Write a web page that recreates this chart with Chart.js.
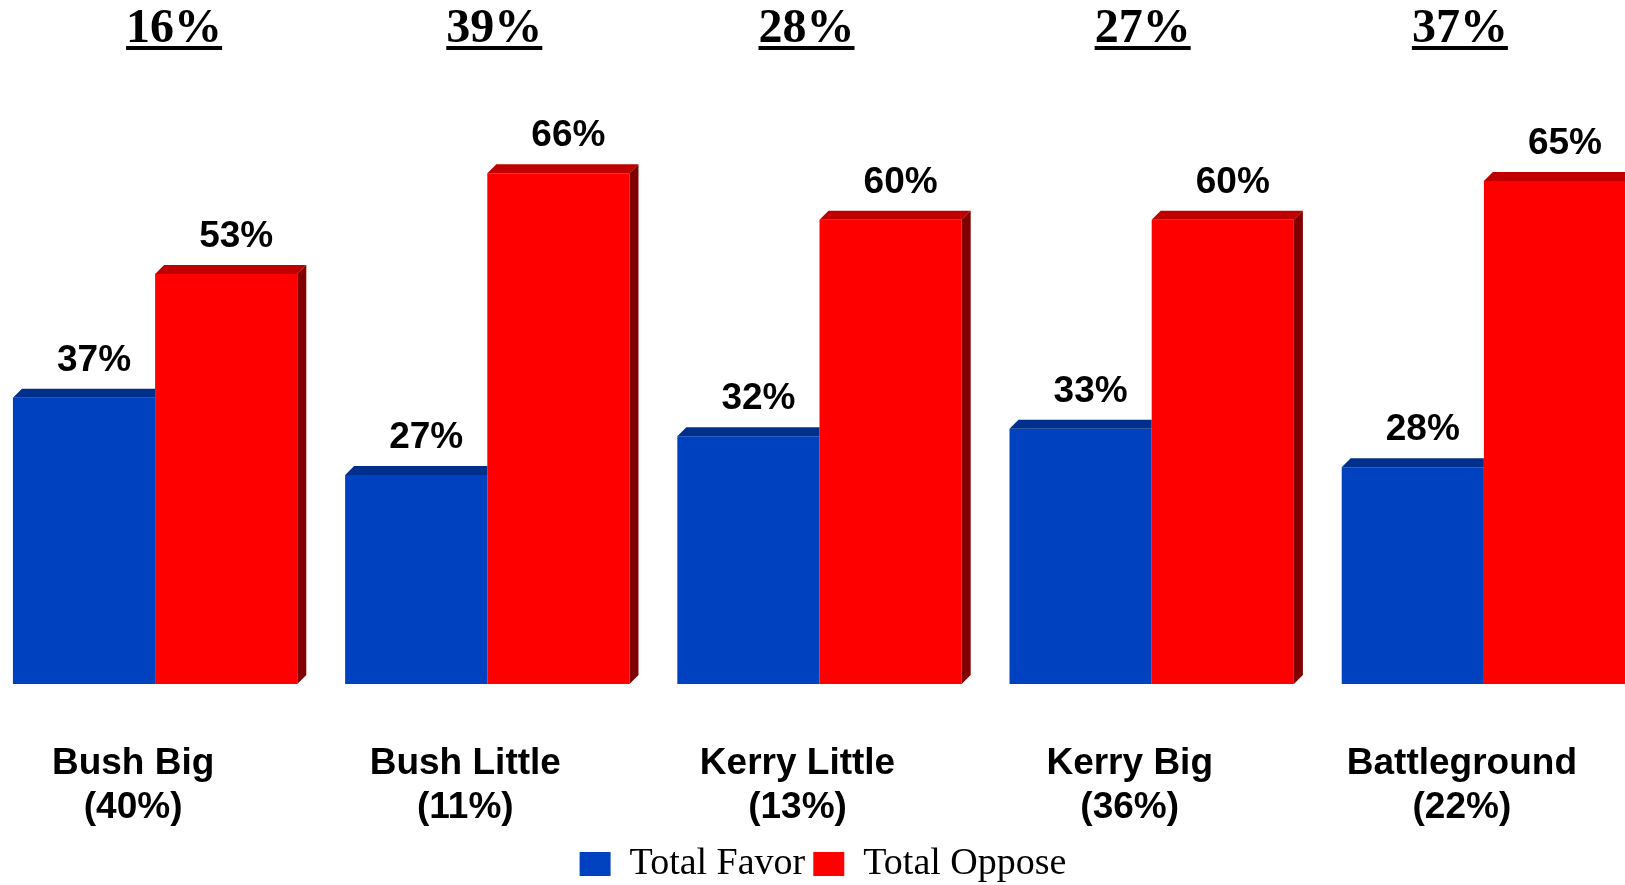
<!DOCTYPE html>
<html>
<head>
<meta charset="utf-8">
<script src="https://cdn.jsdelivr.net/npm/chart.js@4"></script>
<style>
  html, body { margin: 0; padding: 0; background: #fff; overflow: hidden; }
  #wrap { position: absolute; left: -11px; top: 0; width: 1668px; height: 893px; }
</style>
</head>
<body>
<div id="wrap"><canvas id="myChart"></canvas></div>
<script>
const labels = [
    ["Bush Big", "(40%)"],
    ["Bush Little", "(11%)"],
    ["Kerry Little", "(13%)"],
    ["Kerry Big", "(36%)"],
    ["Battleground", "(22%)"]
];

const favor = [37, 27, 32, 33, 28];
const oppose = [53, 66, 60, 60, 65];

// net oppose figures printed above each group
const netOppose = [16, 39, 28, 27, 37];

const depth = 9;
const headOffsets = [19, 7, -13, -9, -24];

// fake 3d: top face + right side, data labels and the underlined headers
const bar3d = {
    id: "bar3d",
    afterDatasetsDraw(chart) {
        const ctx = chart.ctx;
        const n = chart.data.datasets.length;
        chart.data.datasets.forEach((ds, di) => {
            const meta = chart.getDatasetMeta(di);
            const last = di === n - 1;
            meta.data.forEach((bar, i) => {
                const p = bar.getProps(["x", "y", "base", "width"], true);
                const l = p.x - p.width / 2;
                const r = p.x + p.width / 2;
                ctx.save();
                ctx.fillStyle = ds.topColor;
                ctx.beginPath();
                ctx.moveTo(l, p.y);
                ctx.lineTo(l + depth, p.y - depth);
                ctx.lineTo(last ? r + depth : r, p.y - depth);
                ctx.lineTo(r, p.y);
                ctx.closePath();
                ctx.fill();
                if (last) {
                    ctx.fillStyle = ds.sideColor;
                    ctx.beginPath();
                    ctx.moveTo(r, p.y);
                    ctx.lineTo(r + depth, p.y - depth);
                    ctx.lineTo(r + depth, p.base - depth);
                    ctx.lineTo(r, p.base);
                    ctx.closePath();
                    ctx.fill();
                }
                ctx.fillStyle = "#000";
                ctx.font = "bold 37px 'Liberation Sans', Arial, sans-serif";
                ctx.textAlign = "center";
                ctx.textBaseline = "alphabetic";
                ctx.fillText(ds.data[i] + "%", p.x + 10, p.y - 27);
                ctx.restore();
            });
        });

        const xs = chart.scales.x;
        ctx.save();
        ctx.fillStyle = "#000";
        ctx.font = "bold 48px 'Liberation Serif', 'Times New Roman', serif";
        ctx.textAlign = "center";
        ctx.textBaseline = "alphabetic";
        netOppose.forEach((v, i) => {
            const cx = xs.getPixelForValue(i) + headOffsets[i];
            const txt = v + "%";
            const w = ctx.measureText(txt).width;
            ctx.fillText(txt, cx, 42);
            ctx.fillRect(cx - w / 2, 46, w, 4);
        });
        ctx.restore();
    }
};

const data = {
    labels,
    datasets: [
        {
            label: "Total Favor",
            data: favor,
            backgroundColor: "#0041C0",
            topColor: "#002F8C",
            sideColor: "#00215F"
        },
        {
            label: "Total Oppose",
            data: oppose,
            backgroundColor: "#FF0000",
            topColor: "#C00000",
            sideColor: "#800000"
        }
    ]
};

const config = {
    type: "bar",
    data: data,
    options: {
        responsive: true,
        maintainAspectRatio: false,
        animation: false,
        categoryPercentage: 0.856,
        barPercentage: 1,
        layout: {
            padding: { top: 65 }
        },
        scales: {
            x: {
                grid: { display: false, drawTicks: false },
                border: { display: false },
                afterFit: (axis) => {
                    axis.height -= 51;
                },
                ticks: {
                    color: "#000",
                    font: { family: "'Liberation Sans', Arial, sans-serif", size: 37, weight: "bold", lineHeight: 1.19 },
                    padding: 58,
                    labelOffset: -22,
                    maxRotation: 0,
                    autoSkip: false
                }
            },
            y: {
                display: false,
                min: 0,
                max: 80
            }
        },
        plugins: {
            legend: {
                position: "bottom",
                labels: {
                    color: "#000",
                    boxWidth: 31,
                    boxHeight: 24,
                    padding: 8,
                    font: { family: "'Liberation Serif', 'Times New Roman', serif", size: 38 }
                }
            },
            tooltip: { enabled: false }
        }
    },
    plugins: [bar3d]
};

const myChart = new Chart(document.getElementById("myChart").getContext("2d"), config);
</script>
</body>
</html>
